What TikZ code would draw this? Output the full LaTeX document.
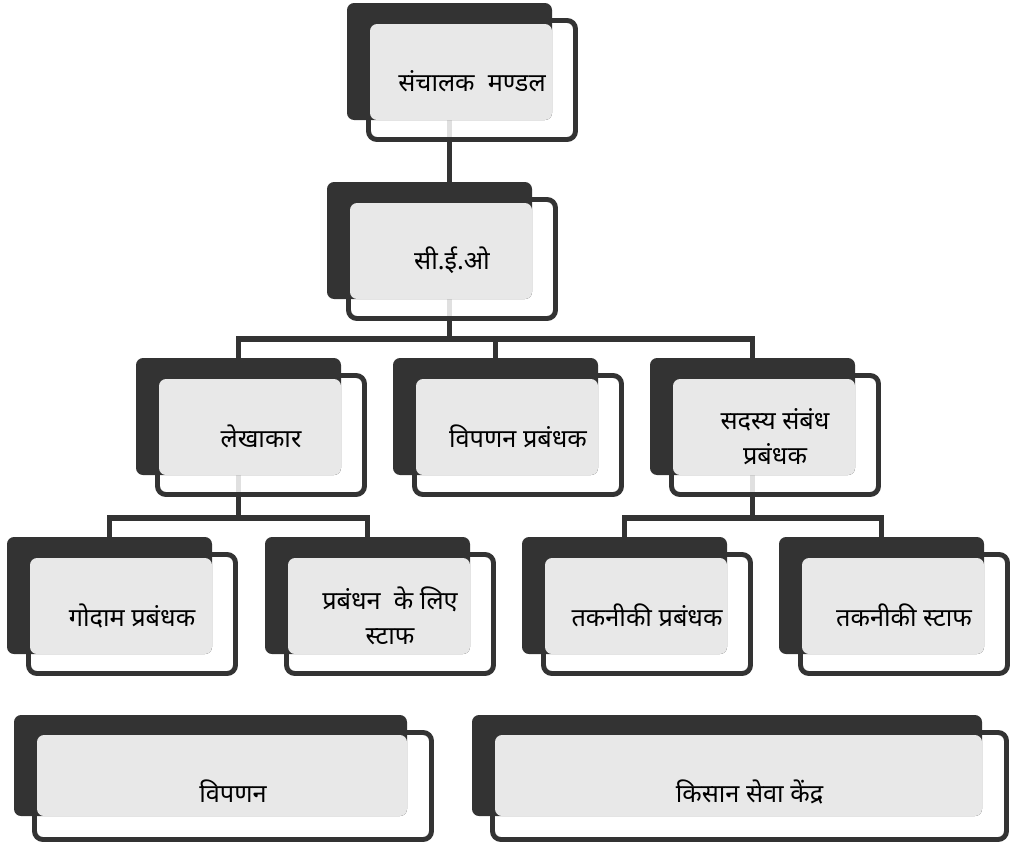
\documentclass[tikz,border=0pt]{standalone}
\usepackage{fontspec}
\usepackage{xcolor}
\usepackage{tikz}
\newfontfamily\devfont[Script=Devanagari]{Noto Sans}
\definecolor{boxdark}{HTML}{333333}
\definecolor{boxface}{HTML}{E8E8E8}
\pgfdeclarelayer{back}
\pgfdeclarelayer{background}
\pgfsetlayers{back,background,main}
\tikzset{
  holder/.style={inner sep=0pt,outer sep=0pt,anchor=north west},
  shadowbox/.style={fill=boxdark,rounded corners=5pt},
  facebox/.style={fill=boxface,rounded corners=5pt},
  framebox/.style={draw=boxdark,line width=3.5pt,fill=white,fill opacity=0.85,rounded corners=6pt},
  conn/.style={draw=boxdark,line width=4pt},
  lbl/.style={font=\devfont\fontsize{18}{25}\selectfont,align=center,inner sep=0pt}
}

\begin{document}
\begin{tikzpicture}[x=0.025cm,y=-0.025cm]
\useasboundingbox (0,0) rectangle (1010,842);
% Boxes
\foreach \n/\x/\y/\t in {board/347/3/{संचालक~~मण्डल}, ceo/327/182/{सी.ई.ओ},
  acc/136/358/{लेखाकार}, mkt/393/358/{विपणन प्रबंधक}, mem/650/358/{सदस्य संबंध\\प्रबंधक},
  wh/7/537/{गोदाम प्रबंधक}, staff/265/537/{प्रबंधन~~के लिए\\स्टाफ},
  tech/522/537/{तकनीकी प्रबंधक}, techst/779/537/{तकनीकी स्टाफ}}
{
  \node[holder,minimum width=205*0.025cm,minimum height=117*0.025cm] (\n) at (\x,\y) {};
  \begin{pgfonlayer}{background}
    \path[framebox] ([shift={(21.5,17.5)}]\n.north west) rectangle ([shift={(23.5,19.5)}]\n.south east);
    \fill[shadowbox] (\n.north west) rectangle (\n.south east);
    \fill[facebox] ([shift={(23,21)}]\n.north west) rectangle (\n.south east);
  \end{pgfonlayer}
  \node[lbl] (\n-t) at ([shift={(22.5,20)}]\n.center) {\t};
}
% Bottom boxes
\foreach \n/\x/\w/\t in {sales/14/393/{विपणन}, kisan/472/510/{किसान सेवा केंद्र}}
{
  \node[holder,minimum width=\w*0.025cm,minimum height=101*0.025cm] (\n) at (\x,715) {};
  \begin{pgfonlayer}{background}
    \path[framebox] ([shift={(20.5,17.5)}]\n.north west) rectangle ([shift={(24.5,23.5)}]\n.south east);
    \fill[shadowbox] (\n.north west) rectangle (\n.south east);
    \fill[facebox] ([shift={(23,20)}]\n.north west) rectangle (\n.south east);
  \end{pgfonlayer}
  \node[lbl] (\n-t) at ([shift={(22.5,26)}]\n.center) {\t};
}
% Connectors
\coordinate (bus1) at (449.5,339);
\coordinate (bus2) at (238.5,518);
\coordinate (bus3) at (752.5,518);
\begin{pgfonlayer}{back}
  \draw[conn] (board.south) -- (board.south |- ceo.north);
  \draw[conn] (ceo.south -| board.south) -- (bus1) -| (mkt.north);
  \draw[conn] (acc.north) |- (bus1) -| (mem.north);
  \draw[conn] (acc.south) -- (bus2);
  \draw[conn] (wh.north) |- (bus2) -| (staff.north);
  \draw[conn] (mem.south) -- (bus3);
  \draw[conn] (tech.north) |- (bus3) -| (techst.north);
\end{pgfonlayer}
\end{tikzpicture}
\end{document}
